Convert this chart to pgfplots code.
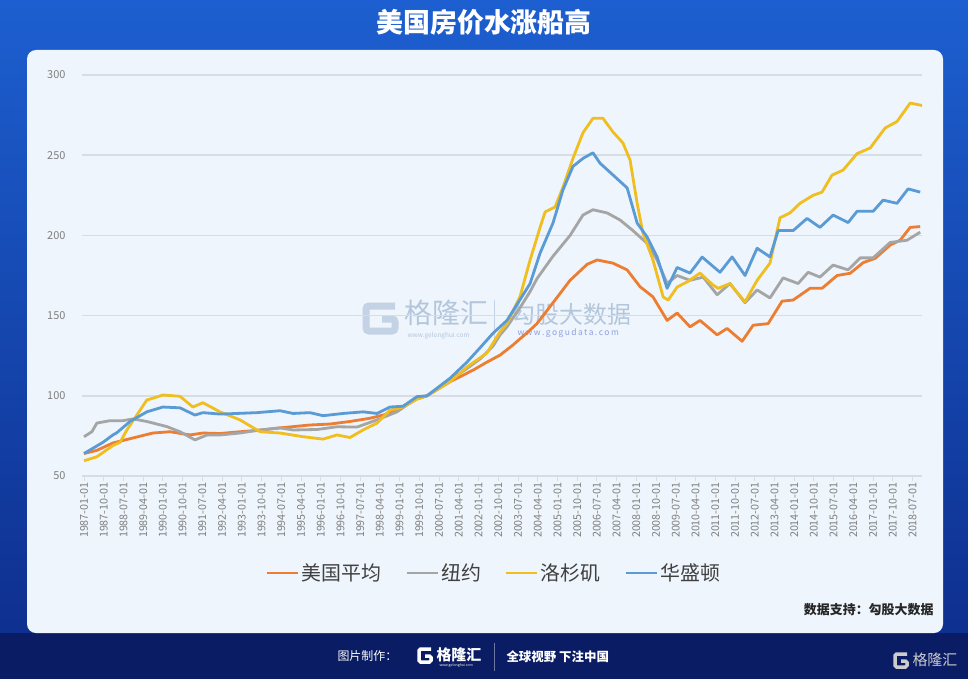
\documentclass[border=0pt]{standalone}
\usepackage{pgfplots}
\usepackage{pgfplotstable}
\pgfplotsset{compat=1.18}
\usepackage{fontspec}
\setmainfont{Noto Sans CJK SC}
\definecolor{cOrange}{HTML}{ED7D31}
\definecolor{cGray}{HTML}{A5A5A5}
\definecolor{cYellow}{HTML}{F0BE1E}
\definecolor{cBlue}{HTML}{5B9BD5}
\definecolor{panel}{HTML}{EEF5FC}
\definecolor{gridc}{HTML}{D8DDE3}
\definecolor{ticktext}{HTML}{7F7F7F}
\definecolor{legtext}{HTML}{404040}
\definecolor{bgtop}{HTML}{1D5FD0}
\definecolor{bgbot}{HTML}{0E2F8F}
\definecolor{footer}{HTML}{0A1C64}
\definecolor{wm}{HTML}{C3D2E5}
\definecolor{wmtext}{HTML}{B4C6DC}

\pgfplotstableread{
x y
0 64
0.49 66
1.10 70.6
1.86 73.7
2.62 76.8
3.27 77.6
4.03 75.6
4.52 76.8
5.17 76.5
5.93 77.6
6.69 78.6
7.45 80
8.59 81.8
9.35 82.4
10.11 84
10.87 86
11.37 88
11.90 91
12.66 98
13.04 100
13.92 108.8
14.79 116
15.32 121
15.82 125.4
16.31 131.7
16.96 141
17.22 145
17.83 158
18.48 172
19.13 182
19.51 184.7
20.11 182.7
20.65 178.5
21.14 168
21.63 161.7
22.17 147
22.55 151.6
23.04 143
23.42 147
24.07 138
24.45 142
25.02 134
25.44 144
26.01 145
26.54 159
26.96 159.7
27.60 167
28.06 167
28.63 175
29.13 176.4
29.62 183
30.08 185.7
30.65 194
31.03 197
31.41 205
31.79 205.5
}\usavg

\pgfplotstableread{
x y
0 74.5
0.30 77.6
0.49 83
0.99 84.5
1.48 84.5
1.86 85.6
2.39 84
3.15 80.8
3.65 77.6
4.22 72.5
4.68 75.6
5.17 75.6
5.93 76.8
6.69 78.7
7.45 80
7.95 78.7
8.86 79
9.62 80.7
10.38 80.5
11.14 85
11.90 90
12.66 98.6
13.04 100
13.92 110
14.56 117
15.06 123
15.55 131
15.82 138
16.08 143
16.58 155
16.96 165
17.22 173
17.83 187
18.48 200
18.97 212.7
19.35 216
19.89 214
20.38 209.6
20.87 203
21.41 195
21.79 184.6
22.17 170
22.55 175
23.04 172
23.54 174
24.07 163
24.56 170
25.13 158
25.59 166
26.08 161
26.58 173.5
27.15 170
27.53 177
27.98 174
28.48 181.5
29.05 178.5
29.51 186
30.00 186
30.65 195.6
31.29 197
31.79 202
}\ny

\pgfplotstableread{
x y
0 59.5
0.49 62
1.10 69
1.37 71
1.63 78.7
2.13 91
2.39 97.4
2.62 98.5
3.00 100.5
3.65 99.7
4.14 93
4.52 95.7
5.17 90
5.93 85
6.69 77.6
7.45 76.8
8.33 74.5
9.09 73
9.62 75.6
10.11 74
10.61 78.7
11.14 83
11.63 91
12.13 93
12.66 98
13.04 100
13.92 108.8
14.56 118
15.32 126.7
15.82 140
16.08 145
16.58 162
16.96 184.7
17.34 205
17.53 214.6
17.91 217.7
18.21 230
18.59 248
18.97 264
19.35 273
19.73 273
20.11 264.5
20.49 257.6
20.76 247
21.03 220
21.25 201.5
21.63 184.7
22.02 161.6
22.21 159.7
22.55 167.8
22.93 171
23.42 176.5
23.92 169
24.11 167
24.56 170
25.13 158.5
25.59 172
26.08 182.7
26.46 211
26.84 214
27.22 220
27.72 225
28.06 227
28.44 237.6
28.86 240.7
29.39 251
29.89 254.5
30.46 267
30.91 271
31.41 282.5
31.86 281
}\la

\pgfplotstableread{
x y
0 64
0.72 71
1.10 75.6
1.25 77
1.75 84
2.39 90
3.00 93
3.65 92.5
4.22 88
4.52 89.5
5.17 88.6
5.81 89
6.57 89.5
7.45 90.7
7.95 89
8.59 89.5
9.09 87.6
9.85 89
10.61 90
11.14 89
11.63 93
12.13 93.5
12.66 99.5
13.04 100
13.92 111
14.56 121
15.06 130
15.55 139
16.08 147
16.58 160
16.96 170
17.34 189
17.83 207.7
18.21 228.4
18.59 243
18.97 248
19.35 251.5
19.62 245
20.11 237.7
20.65 229.6
21.03 207.7
21.41 199
21.79 186.5
22.17 167
22.55 180
23.04 176.5
23.50 186.5
24.18 177
24.64 186.6
25.13 175
25.59 192
26.08 186.6
26.39 203
26.96 203
27.49 210.6
27.98 205
28.48 212.7
29.05 208
29.39 215
30.00 215
30.38 222
30.91 220
31.33 229
31.79 227
}\dc

\begin{document}
\begin{tikzpicture}
\begin{scope}[x=1bp,y=-1bp]
\useasboundingbox (0,0) rectangle (968,679);
\shade[top color=bgtop, bottom color=bgbot] (0,0) rectangle (968,640);
\fill[footer] (0,633) rectangle (968,679);
\fill[panel, rounded corners=9bp] (27,50) rectangle (943,633);
\node[white, font=\fontsize{27}{30}\selectfont\bfseries] at (484,22) {美国房价水涨船高};
% watermarks
\draw[wm, line width=7bp, rounded corners=3bp] (395,306) -- (366,306) -- (366,331) -- (395,331) -- (395,319) -- (382,319);
\node[wmtext, anchor=west, font=\fontsize{28}{29}\selectfont] at (401,313) {格隆汇};
\node[wmtext, anchor=west, font=\fontsize{6.5}{7}\selectfont] at (404,336) {www.gelonghui.com};
\draw[wm, line width=1bp] (494,300) -- (494,342);
\node[wmtext, anchor=west, font=\fontsize{24}{26}\selectfont] at (508,314) {勾股大数据};
\node[wmtext!80!blue, anchor=west, font=\fontsize{8.5}{9}\selectfont] at (514,333) {w\,w\,w\,.\,g\,o\,g\,u\,d\,a\,t\,a\,.\,c\,o\,m};
\end{scope}

\begin{axis}[
  at={(82bp,-476bp)}, anchor=south west,
  scale only axis, width=840bp, height=401bp,
  xmin=-0.076, xmax=31.86, ymin=50, ymax=300,
  ytick={50,100,...,300},
  xtick={0,0.75,...,31.6},
  xticklabels={1987-01-01,1987-10-01,1988-07-01,1989-04-01,1990-01-01,1990-10-01,1991-07-01,1992-04-01,1993-01-01,1993-10-01,1994-07-01,1995-04-01,1996-01-01,1996-10-01,1997-07-01,1998-04-01,1999-01-01,1999-10-01,2000-07-01,2001-04-01,2002-01-01,2002-10-01,2003-07-01,2004-04-01,2005-01-01,2005-10-01,2006-07-01,2007-04-01,2008-01-01,2008-10-01,2009-07-01,2010-04-01,2011-01-01,2011-10-01,2012-07-01,2013-04-01,2014-01-01,2014-10-01,2015-07-01,2016-04-01,2017-01-01,2017-10-01,2018-07-01},
  /pgf/number format/assume math mode=true,
  x tick label style={rotate=90, anchor=east, font=\fontsize{10.8}{11}\selectfont, text=ticktext, inner sep=1.5bp},
  y tick label style={font=\fontsize{11}{11}\selectfont, text=ticktext, xshift=-8bp},
  axis lines*=left, axis line style={-},
  y axis line style={draw=none},
  x axis line style={draw=gridc, line width=1.2bp},
  ymajorgrids, grid style={gridc, line width=1.5bp},
  tick align=outside, major tick length=5bp,
  xtick style={draw=gridc, line width=1bp},
  ytick style={draw=none},
  every axis plot/.append style={line width=2.8bp, line join=round},
  legend columns=4,
  legend style={at={(0.4905,-0.242)}, anchor=center, draw=none, fill=none,
    font=\fontsize{20}{22}\selectfont, text=legtext,
    /tikz/every even column/.append style={column sep=22bp}},
  legend image code/.code={\draw[#1] (0bp,0bp) -- (31bp,0bp);},
]
\addplot[cOrange] table[x=x,y=y] {\usavg};
\addlegendentry{美国平均}
\addplot[cGray] table[x=x,y=y] {\ny};
\addlegendentry{纽约}
\addplot[cYellow] table[x=x,y=y] {\la};
\addlegendentry{洛杉矶}
\addplot[cBlue] table[x=x,y=y] {\dc};
\addlegendentry{华盛顿}
\end{axis}

\begin{scope}[x=1bp,y=-1bp]
\node[anchor=east, font=\fontsize{13}{14}\selectfont\bfseries, text=black!85] at (937,610) {数据支持：勾股大数据};
\node[anchor=west, white, font=\fontsize{12}{13}\selectfont] at (334,656) {图片制作：};
\draw[white, line width=3.5bp, rounded corners=1.5bp] (431,649) -- (419,649) -- (419,662) -- (431,662) -- (431,656) -- (425,656);
\node[anchor=west, white, font=\fontsize{15}{16}\selectfont\bfseries] at (433,655) {格隆汇};
\node[anchor=west, white, font=\fontsize{3.5}{4}\selectfont] at (436,666) {www.gelonghui.com};
\draw[white!40!footer, line width=1bp] (494,643) -- (494,671);
\node[anchor=west, white, font=\fontsize{12.5}{13}\selectfont\bfseries] at (503,657) {全球视野 下注中国};
\draw[black!20, line width=3.5bp, rounded corners=1.5bp] (907,654) -- (895,654) -- (895,667) -- (907,667) -- (907,661) -- (901,661);
\node[anchor=west, black!20, font=\fontsize{15}{16}\selectfont] at (909,660) {格隆汇};
\end{scope}
\end{tikzpicture}
\end{document}
